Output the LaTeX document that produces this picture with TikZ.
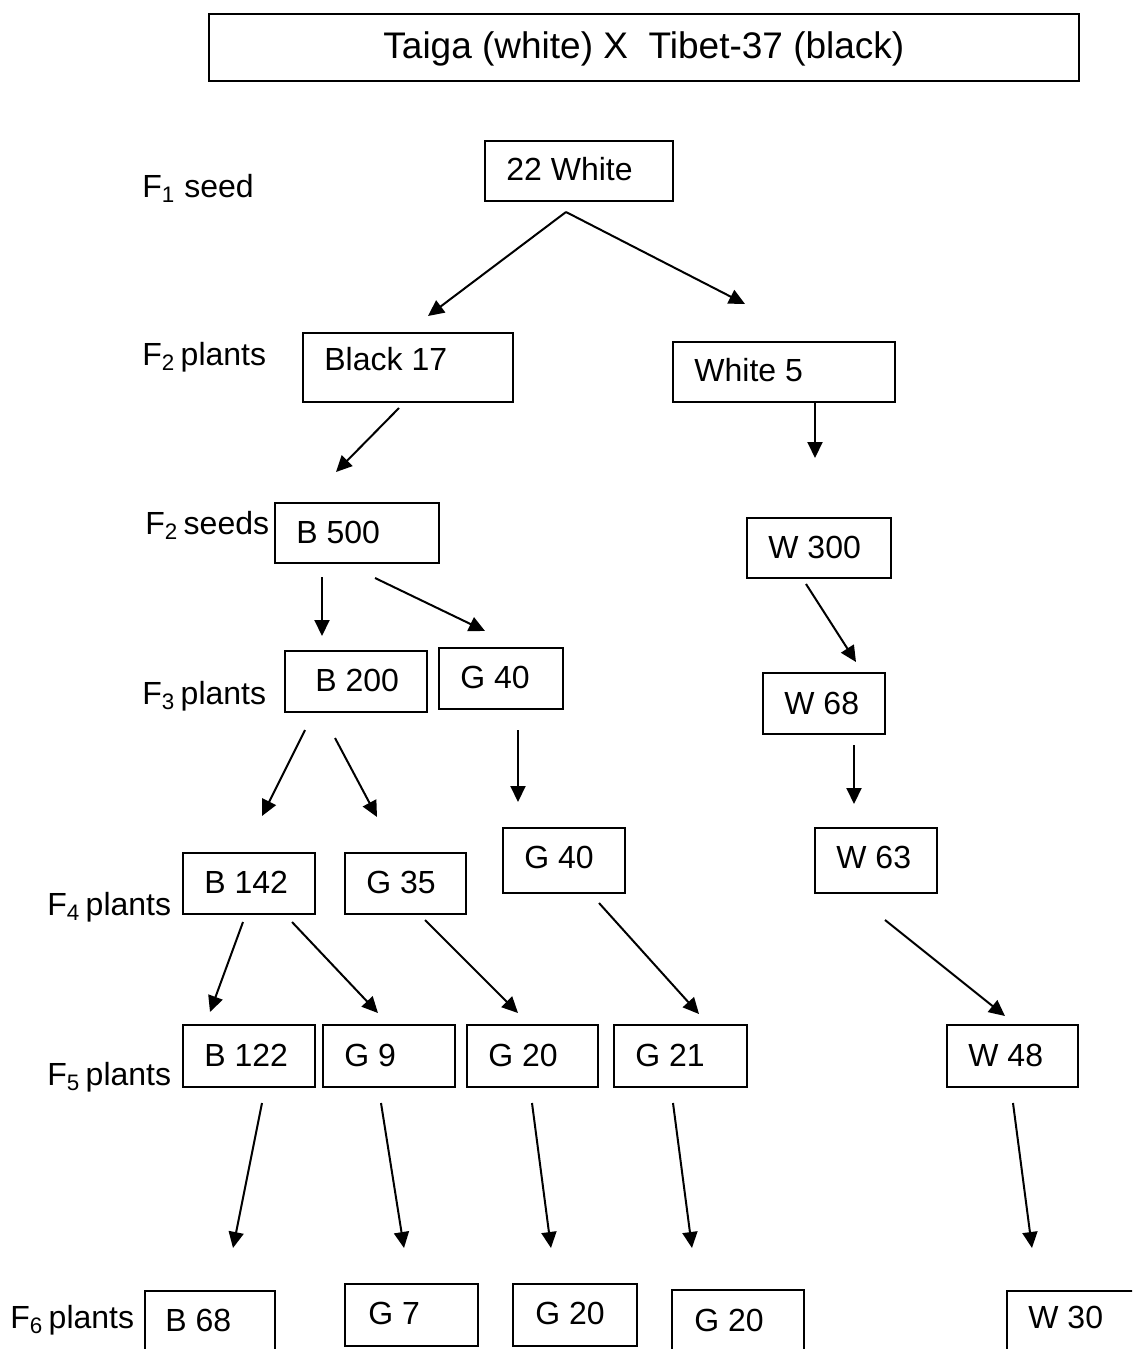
\documentclass[tikz,border=0pt]{standalone}
\usepackage{fontspec}
\setmainfont{Liberation Sans}
\usetikzlibrary{arrows.meta,fit}
\tikzset{
  bx/.style={draw, line width=0.75pt, inner sep=0pt},
  tx/.style={anchor=base west, inner sep=0pt, font=\fontsize{16}{19}\selectfont},
  lb/.style={anchor=base west, inner sep=0pt, font=\fontsize{16}{19}\selectfont},
  arr/.style={line width=1pt, -{Triangle[length=8pt,width=7.5pt]}},
}
\begin{document}
\begin{tikzpicture}[x=0.5pt,y=-0.5pt]
\useasboundingbox (0,0) rectangle (1132,1349);
\clip (0,0) rectangle (1132,1349);
\fill[white] (0,0) rectangle (1132,1349);
% title
\node[bx, fit={(209,14) (1079,81)}] (title) {};
\node[anchor=base west, inner sep=0pt, font=\fontsize{18.5}{22}\selectfont] (ttitle) at (383,58) {Taiga (white) X\ \ Tibet-37 (black)};
% generation labels
\node[lb] (l1) at (142,197) {F\textsubscript{1} seed};
\node[lb] (l2) at (142,365) {F\textsubscript{2}\,plants};
\node[lb] (l3) at (145,534) {F\textsubscript{2}\,seeds};
\node[lb] (l4) at (142,704) {F\textsubscript{3}\,plants};
\node[lb] (l5) at (47,915) {F\textsubscript{4}\,plants};
\node[lb] (l6) at (47,1085) {F\textsubscript{5}\,plants};
\node[lb] (l7) at (10,1328) {F\textsubscript{6}\,plants};
% boxes
\node[bx, fit={(485,141) (673,201)}] (n22) {};
\node[tx] at (506,180) {22 White};
\node[bx, fit={(303,333) (513,402)}] (black17) {};
\node[tx] at (324,370) {Black 17};
\node[bx, fit={(673,342) (895,402)}] (white5) {};
\node[tx] at (694,381) {White 5};
\node[bx, fit={(275,503) (439,563)}] (b500) {};
\node[tx] at (296,543) {B 500};
\node[bx, fit={(747,518) (891,578)}] (w300) {};
\node[tx] at (768,558) {W 300};
\node[bx, fit={(285,651) (427,712)}] (b200) {};
\node[tx] at (315,691) {B 200};
\node[bx, fit={(439,648) (563,709)}] (g40a) {};
\node[tx] at (460,688) {G 40};
\node[bx, fit={(763,673) (885,734)}] (w68) {};
\node[tx] at (784,714) {W 68};
\node[bx, fit={(503,828) (625,893)}] (g40b) {};
\node[tx] at (524,868) {G 40};
\node[bx, fit={(815,828) (937,893)}] (w63) {};
\node[tx] at (836,868) {W 63};
\node[bx, fit={(183,853) (315,914)}] (b142) {};
\node[tx] at (204,893) {B 142};
\node[bx, fit={(345,853) (466,914)}] (g35) {};
\node[tx] at (366,893) {G 35};
\node[bx, fit={(183,1025) (315,1087)}] (b122) {};
\node[tx] at (204,1066) {B 122};
\node[bx, fit={(323,1025) (455,1087)}] (g9) {};
\node[tx] at (344,1066) {G 9};
\node[bx, fit={(467,1025) (598,1087)}] (g20a) {};
\node[tx] at (488,1066) {G 20};
\node[bx, fit={(614,1025) (747,1087)}] (g21) {};
\node[tx] at (635,1066) {G 21};
\node[bx, fit={(947,1025) (1078,1087)}] (w48) {};
\node[tx] at (968,1066) {W 48};
\node[bx, fit={(145,1291) (275,1362)}] (b68) {};
\node[tx] at (165,1331) {B 68};
\node[bx, fit={(345,1284) (478,1346)}] (g7) {};
\node[tx] at (368,1324) {G 7};
\node[bx, fit={(513,1284) (637,1346)}] (g20b) {};
\node[tx] at (535,1324) {G 20};
\node[bx, fit={(672,1290) (804,1362)}] (g20c) {};
\node[tx] at (694,1331) {G 20};
\node[bx, fit={(1007,1291) (1142,1362)}] (w30) {};
\node[tx] at (1028,1328) {W 30};
% arrow end points
\coordinate (a1s) at (566,212);  \coordinate (a1e) at (428,316);
\coordinate (a2s) at (566,212);  \coordinate (a2e) at (745,304);
\coordinate (a3s) at (399,408);  \coordinate (a3e) at (336,472);
\coordinate (a4s) at (815,402);  \coordinate (a4e) at (815,458);
\coordinate (a5s) at (322,577);  \coordinate (a5e) at (322,636);
\coordinate (a6s) at (375,578);  \coordinate (a6e) at (485,631);
\coordinate (a7s) at (806,584);  \coordinate (a7e) at (856,662);
\coordinate (a8s) at (305,730);  \coordinate (a8e) at (262,816);
\coordinate (a9s) at (335,738);  \coordinate (a9e) at (377,817);
\coordinate (a10s) at (518,730); \coordinate (a10e) at (518,802);
\coordinate (a11s) at (854,745); \coordinate (a11e) at (854,804);
\coordinate (a12s) at (243,922); \coordinate (a12e) at (210,1012);
\coordinate (a13s) at (292,922); \coordinate (a13e) at (378,1013);
\coordinate (a14s) at (425,920); \coordinate (a14e) at (518,1013);
\coordinate (a15s) at (599,903); \coordinate (a15e) at (699,1014);
\coordinate (a16s) at (885,920); \coordinate (a16e) at (1005,1016);
\coordinate (a17s) at (262,1103); \coordinate (a17e) at (233,1248);
\coordinate (a18s) at (381,1103); \coordinate (a18e) at (404,1248);
\coordinate (a19s) at (532,1103); \coordinate (a19e) at (551,1248);
\coordinate (a20s) at (673,1103); \coordinate (a20e) at (692,1248);
\coordinate (a21s) at (1013,1103); \coordinate (a21e) at (1032,1248);
\foreach \i in {1,...,21} {\draw[arr] (a\i s) -- (a\i e);}
\end{tikzpicture}
\end{document}
